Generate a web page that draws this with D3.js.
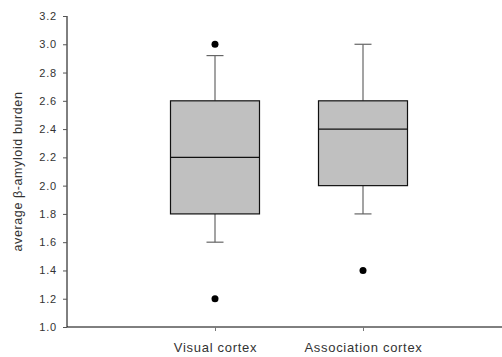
<!DOCTYPE html>
<html><head><meta charset="utf-8">
<script src="https://cdn.jsdelivr.net/npm/d3@7"></script>
<style>
body{margin:0;background:#fff;}
text{font-family:Arial,"Liberation Sans",sans-serif;}
</style></head><body>
<svg id="c" width="502" height="357"></svg>
<script>
const categories = ["Visual cortex", "Association cortex"];
const q1 = [1.8, 2.0];
const median = [2.2, 2.4];
const q3 = [2.6, 2.6];
const whiskerLow = [1.6, 1.8];
const whiskerHigh = [2.92, 3.0];
const outliers = [[3.0, 1.2], [1.4]];
const yTicks = [1.0, 1.2, 1.4, 1.6, 1.8, 2.0, 2.2, 2.4, 2.6, 2.8, 3.0, 3.2];

const svg = d3.select("#c");
const mLeft = 67, mRight = 511, mTop = 16, mBottom = 327;
const x = d3.scalePoint().domain(categories).range([mLeft, mRight]).padding(1);
const y = d3.scaleLinear().domain([1.0, 3.2]).range([mBottom, mTop]);
const bw = 89, cap = 17;

// y axis
const ya = svg.append("g").attr("transform", `translate(${mLeft},0)`)
  .call(d3.axisLeft(y).tickValues(yTicks).tickFormat(d3.format(".1f")).tickSize(4).tickPadding(6));
ya.select(".domain").attr("stroke", "#000").attr("d", `M0,${mTop}V${mBottom}`);
ya.selectAll(".tick line").attr("stroke", "#555");
ya.selectAll(".tick text").attr("fill", "#333").style("font-size", "11px").style("letter-spacing", "0.8px");

// x axis
const xa = svg.append("g").attr("transform", `translate(0,${mBottom})`)
  .call(d3.axisBottom(x).tickSize(4).tickPadding(12));
xa.select(".domain").attr("stroke", "#000").attr("d", `M${mLeft},0H502`);
xa.selectAll(".tick line").attr("stroke", "#777");
xa.selectAll(".tick text").attr("fill", "#333").style("font-size", "13px").style("letter-spacing", "0.7px");

// y label
svg.append("text").attr("transform", `translate(22,${(mTop+mBottom)/2}) rotate(-90)`)
  .attr("text-anchor", "middle").attr("fill", "#333").style("font-size", "12.5px").style("letter-spacing", "0.6px")
  .text("average β-amyloid burden");

const g = svg.append("g");
categories.forEach((c, i) => {
  const cx = x(c);
  // whiskers
  g.append("line").attr("x1", cx).attr("x2", cx).attr("y1", y(q3[i])).attr("y2", y(whiskerHigh[i])).attr("stroke", "#666").attr("stroke-width", 1.2);
  g.append("line").attr("x1", cx).attr("x2", cx).attr("y1", y(q1[i])).attr("y2", y(whiskerLow[i])).attr("stroke", "#666").attr("stroke-width", 1.2);
  g.append("line").attr("x1", cx - cap/2).attr("x2", cx + cap/2).attr("y1", y(whiskerHigh[i])).attr("y2", y(whiskerHigh[i])).attr("stroke", "#666").attr("stroke-width", 1.2);
  g.append("line").attr("x1", cx - cap/2).attr("x2", cx + cap/2).attr("y1", y(whiskerLow[i])).attr("y2", y(whiskerLow[i])).attr("stroke", "#666").attr("stroke-width", 1.2);
  // box
  g.append("rect").attr("x", cx - bw/2).attr("width", bw).attr("y", y(q3[i])).attr("height", y(q1[i]) - y(q3[i]))
    .attr("fill", "#c0c0c0").attr("stroke", "#111").attr("stroke-width", 1.2);
  g.append("line").attr("x1", cx - bw/2).attr("x2", cx + bw/2).attr("y1", y(median[i])).attr("y2", y(median[i])).attr("stroke", "#111").attr("stroke-width", 1.2);
  outliers[i].forEach(v => {
    g.append("circle").attr("cx", cx).attr("cy", y(v)).attr("r", 3.5).attr("fill", "#000");
  });
});
</script></body></html>
